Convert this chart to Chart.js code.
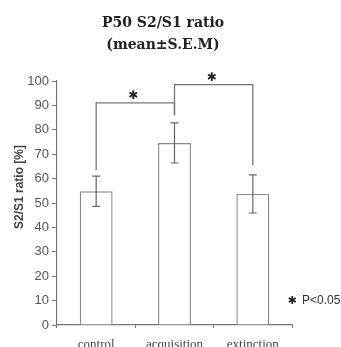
<!DOCTYPE html>
<html>
<head>
<meta charset="utf-8">
<script src="https://cdn.jsdelivr.net/npm/chart.js@4/dist/chart.umd.min.js"></script>
<style>
  html, body { margin: 0; padding: 0; background: #fff; }
  #wrap { width: 341px; height: 347px; position: relative; }
</style>
</head>
<body>
<div id="wrap"><canvas id="graphique"></canvas></div>
<script>
// Données
const categories = ["control", "acquisition", "extinction"];
const moyennes = [54.8, 74.6, 53.7];
const sem = [6.2, 8.2, 7.8];
const yTicks = [0, 10, 20, 30, 40, 50, 60, 70, 80, 90, 100];

// crochets de significativité (index des barres + hauteurs en %)
const crochetDebut = [0, 1];
const crochetFin = [1, 2];
const crochetNiveau = [91, 98.5];
const crochetBasGauche = [63.5, 86];
const crochetBasDroite = [86, 65.5];
const crochetTexte = ["\u2731", "\u2731"];

const titre = ["P50 S2/S1 ratio", "(mean\u00b1S.E.M)"];
const titreAxeY = "S2/S1 ratio [%]";
const legendeP = "P<0.05";

// plugin : barres d'erreur + crochets + textes
const dessinPlugin = {
  id: "dessin",
  afterDatasetsDraw(chart) {
    const ctx = chart.ctx;
    const x = chart.scales.x;
    const y = chart.scales.y;

    // barres d'erreur
    ctx.save();
    ctx.strokeStyle = "#666";
    ctx.lineWidth = 1.2;
    for (let i = 0; i < moyennes.length; i++) {
      const cx = x.getPixelForValue(i);
      const haut = y.getPixelForValue(moyennes[i] + sem[i]);
      const bas = y.getPixelForValue(moyennes[i] - sem[i]);
      ctx.beginPath();
      ctx.moveTo(cx, haut);
      ctx.lineTo(cx, bas);
      ctx.moveTo(cx - 4, haut);
      ctx.lineTo(cx + 4, haut);
      ctx.moveTo(cx - 4, bas);
      ctx.lineTo(cx + 4, bas);
      ctx.stroke();
    }

    // crochets
    ctx.strokeStyle = "#777";
    ctx.lineWidth = 1.3;
    for (let i = 0; i < crochetDebut.length; i++) {
      const x1 = x.getPixelForValue(crochetDebut[i]);
      const x2 = x.getPixelForValue(crochetFin[i]);
      const yh = y.getPixelForValue(crochetNiveau[i]);
      ctx.beginPath();
      ctx.moveTo(x1, y.getPixelForValue(crochetBasGauche[i]));
      ctx.lineTo(x1, yh);
      ctx.lineTo(x2, yh);
      ctx.lineTo(x2, y.getPixelForValue(crochetBasDroite[i]));
      ctx.stroke();

      ctx.fillStyle = "#222";
      ctx.font = "bold 12px 'DejaVu Sans'";
      ctx.textAlign = "center";
      ctx.textBaseline = "middle";
      ctx.fillText(crochetTexte[i], (x1 + x2) / 2 - 2, yh - 7);
    }
    ctx.restore();
  },
  afterDraw(chart) {
    const ctx = chart.ctx;
    ctx.save();

    // titre
    ctx.fillStyle = "#222";
    ctx.font = "bold 14px 'DejaVu Serif'";
    ctx.textAlign = "center";
    ctx.textBaseline = "middle";
    ctx.fillText(titre[0], 163, 23);
    ctx.fillText(titre[1], 163, 45);

    // titre axe Y
    ctx.save();
    ctx.translate(20, 187);
    ctx.rotate(-Math.PI / 2);
    ctx.font = "bold 12px 'Liberation Sans'";
    ctx.fillStyle = "#444";
    ctx.fillText(titreAxeY, 0, 0);
    ctx.restore();

    // légende P<0.05
    ctx.fillStyle = "#222";
    ctx.font = "bold 11px 'DejaVu Sans'";
    ctx.textAlign = "center";
    ctx.textBaseline = "middle";
    ctx.fillText("\u2731", 292, 301);
    ctx.font = "12px 'Liberation Sans'";
    ctx.fillStyle = "#333";
    ctx.textAlign = "left";
    ctx.fillText(legendeP, 302, 301);

    ctx.restore();
  }
};

const data = {
  labels: categories,
  datasets: [
    {
      data: moyennes,
      backgroundColor: "#fff",
      borderColor: "#8a8a8a",
      borderWidth: 1.4,
      categoryPercentage: 1,
      barPercentage: 0.42,
    },
  ],
};

const config = {
  type: "bar",
  data: data,
  options: {
    responsive: true,
    maintainAspectRatio: false,
    animation: false,
    layout: { padding: { top: 81, right: 49, left: 0, bottom: 0 } },
    plugins: {
      legend: { display: false },
      tooltip: { enabled: false },
      title: { display: false },
    },
    scales: {
      x: {
        afterFit: (scale) => { scale.height = 22; },
        border: { color: "#777", width: 1.2 },
        grid: { drawOnChartArea: false, drawTicks: true, tickLength: 3, color: "#777", offset: true },
        ticks: {
          color: "#444",
          font: { family: "'Liberation Serif'", size: 13 },
          padding: 9,
        },
      },
      y: {
        min: 0,
        max: 100,
        afterFit: (scale) => { scale.width = 57; },
        afterBuildTicks: (scale) => { scale.ticks = yTicks.map((v) => ({ value: v })); },
        border: { color: "#777", width: 1.2 },
        grid: { drawOnChartArea: false, drawTicks: true, tickLength: 5, color: "#777" },
        ticks: {
          color: "#555",
          font: { family: "'Liberation Sans'", size: 13 },
          padding: 3,
        },
      },
    },
  },
  plugins: [dessinPlugin],
};

new Chart(document.querySelector("#graphique"), config);
</script>
</body>
</html>
